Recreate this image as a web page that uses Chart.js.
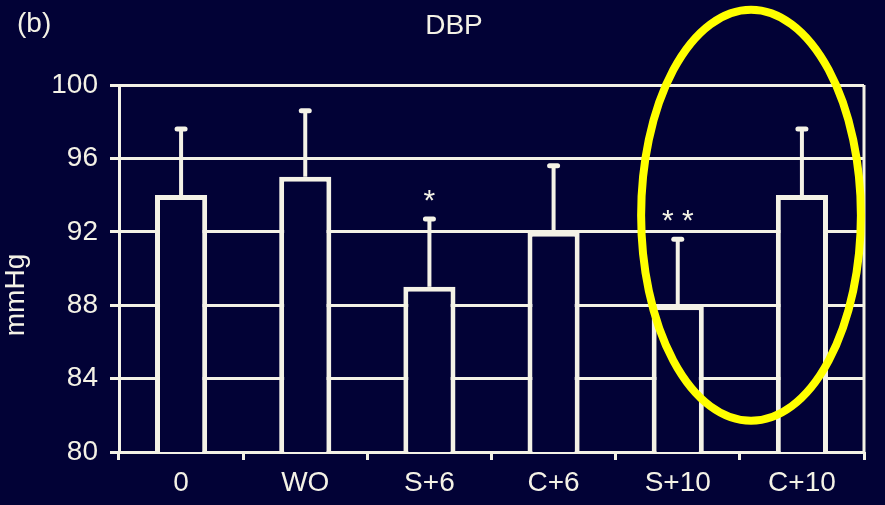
<!DOCTYPE html>
<html>
<head>
<meta charset="utf-8">
<script src="https://cdn.jsdelivr.net/npm/chart.js@4.4.1/dist/chart.umd.min.js"></script>
<style>
    html, body { margin: 0; padding: 0; background: #020236; }
    #wrap { width: 885px; height: 505px; }
</style>
</head>
<body>
<div id="wrap"><canvas id="dbpChart" width="885" height="505"></canvas></div>
<script>
// Datos
const categories = ['0', 'WO', 'S+6', 'C+6', 'S+10', 'C+10'];
const meanValues = [94, 95, 89, 92, 88, 94];
const upperError = [97.6, 98.6, 92.7, 95.6, 91.6, 97.6];
const significance = ['', '', '*', '', '**', ''];
const yTicks = [80, 84, 88, 92, 96, 100];

// Estilo
const BG = '#020236';
const INK = '#f4f2e6';
const FONT = "'Liberation Sans', Arial, sans-serif";
const FONT_SIZE = 28;

// Barras de error (solo hacia arriba) + asteriscos
const errorBarsPlugin = {
    id: 'errorBars',
    afterDatasetsDraw(chart) {
        const { ctx, scales: { x, y } } = chart;
        ctx.save();
        ctx.strokeStyle = INK;
        ctx.fillStyle = INK;
        meanValues.forEach((v, i) => {
            const px = x.getPixelForValue(i);
            const yTop = y.getPixelForValue(upperError[i]);
            const yBar = y.getPixelForValue(v);
            ctx.lineWidth = 4;
            ctx.lineCap = 'butt';
            ctx.beginPath();
            ctx.moveTo(px, yBar);
            ctx.lineTo(px, yTop);
            ctx.stroke();
            ctx.lineWidth = 5;
            ctx.lineCap = 'round';
            ctx.beginPath();
            ctx.moveTo(px - 4, yTop);
            ctx.lineTo(px + 4, yTop);
            ctx.stroke();
            if (significance[i]) {
                ctx.font = '30px ' + FONT;
                ctx.textAlign = 'center';
                ctx.textBaseline = 'alphabetic';
                ctx.fillText(significance[i].split('').join(' '), px, yTop - 9);
            }
        });
        ctx.restore();
    }
};

// Marco derecho, textos y elipse amarilla
const decorPlugin = {
    id: 'decor',
    afterDraw(chart) {
        const { ctx, chartArea, scales: { x, y } } = chart;
        ctx.save();
        // borde derecho
        ctx.strokeStyle = INK;
        ctx.lineWidth = 3;
        ctx.beginPath();
        ctx.moveTo(chartArea.right, y.getPixelForValue(100));
        ctx.lineTo(chartArea.right, y.getPixelForValue(80));
        ctx.stroke();

        ctx.fillStyle = INK;
        ctx.textBaseline = 'middle';
        ctx.font = FONT_SIZE + 'px ' + FONT;
        ctx.textAlign = 'left';
        ctx.fillText('(b)', 17, 24);
        ctx.textAlign = 'center';
        ctx.fillText('DBP', 454, 26);

        ctx.translate(16, 295);
        ctx.rotate(-Math.PI / 2);
        ctx.fillText('mmHg', 0, 0);
        ctx.restore();

        // elipse alrededor de S+10 y C+10
        ctx.save();
        const cx = x.getPixelForValue(4.59);
        const cy = y.getPixelForValue(92.9);
        const rx = (x.getPixelForValue(5) - x.getPixelForValue(4)) * 0.885;
        const ry = y.getPixelForValue(92.9 - 11.2) - cy;
        ctx.strokeStyle = '#ffff00';
        ctx.lineWidth = 8;
        ctx.beginPath();
        ctx.ellipse(cx, cy, rx, ry, 0, 0, Math.PI * 2);
        ctx.stroke();
        ctx.restore();
    }
};

Chart.defaults.font.family = FONT;
Chart.defaults.color = INK;

new Chart(document.getElementById('dbpChart'), {
    type: 'bar',
    data: {
        labels: categories,
        datasets: [{
            data: meanValues,
            backgroundColor: BG,
            borderColor: INK,
            borderWidth: 5,
            borderSkipped: 'bottom',
            barPercentage: 0.42,
            categoryPercentage: 1
        }]
    },
    options: {
        responsive: false,
        animation: false,
        layout: { padding: { top: 85, right: 21, left: 0, bottom: 0 } },
        plugins: {
            legend: { display: false },
            tooltip: { enabled: false },
            title: { display: false }
        },
        scales: {
            x: {
                grid: {
                    offset: true,
                    drawOnChartArea: false,
                    drawTicks: true,
                    tickLength: 8,
                    color: INK,
                    lineWidth: 3
                },
                border: { display: false },
                ticks: { font: { size: FONT_SIZE }, padding: 6, color: INK },
                afterFit(scale) { scale.height = 53; }
            },
            y: {
                min: 80,
                max: 100,
                afterBuildTicks(scale) { scale.ticks = yTicks.map(v => ({ value: v })); },
                grid: {
                    color: INK,
                    lineWidth: 3,
                    tickLength: 9
                },
                border: { display: true, color: INK, width: 3 },
                ticks: { font: { size: FONT_SIZE }, padding: 12, color: INK },
                afterFit(scale) { scale.width = 119; }
            }
        }
    },
    plugins: [errorBarsPlugin, decorPlugin]
});
</script>
</body>
</html>
